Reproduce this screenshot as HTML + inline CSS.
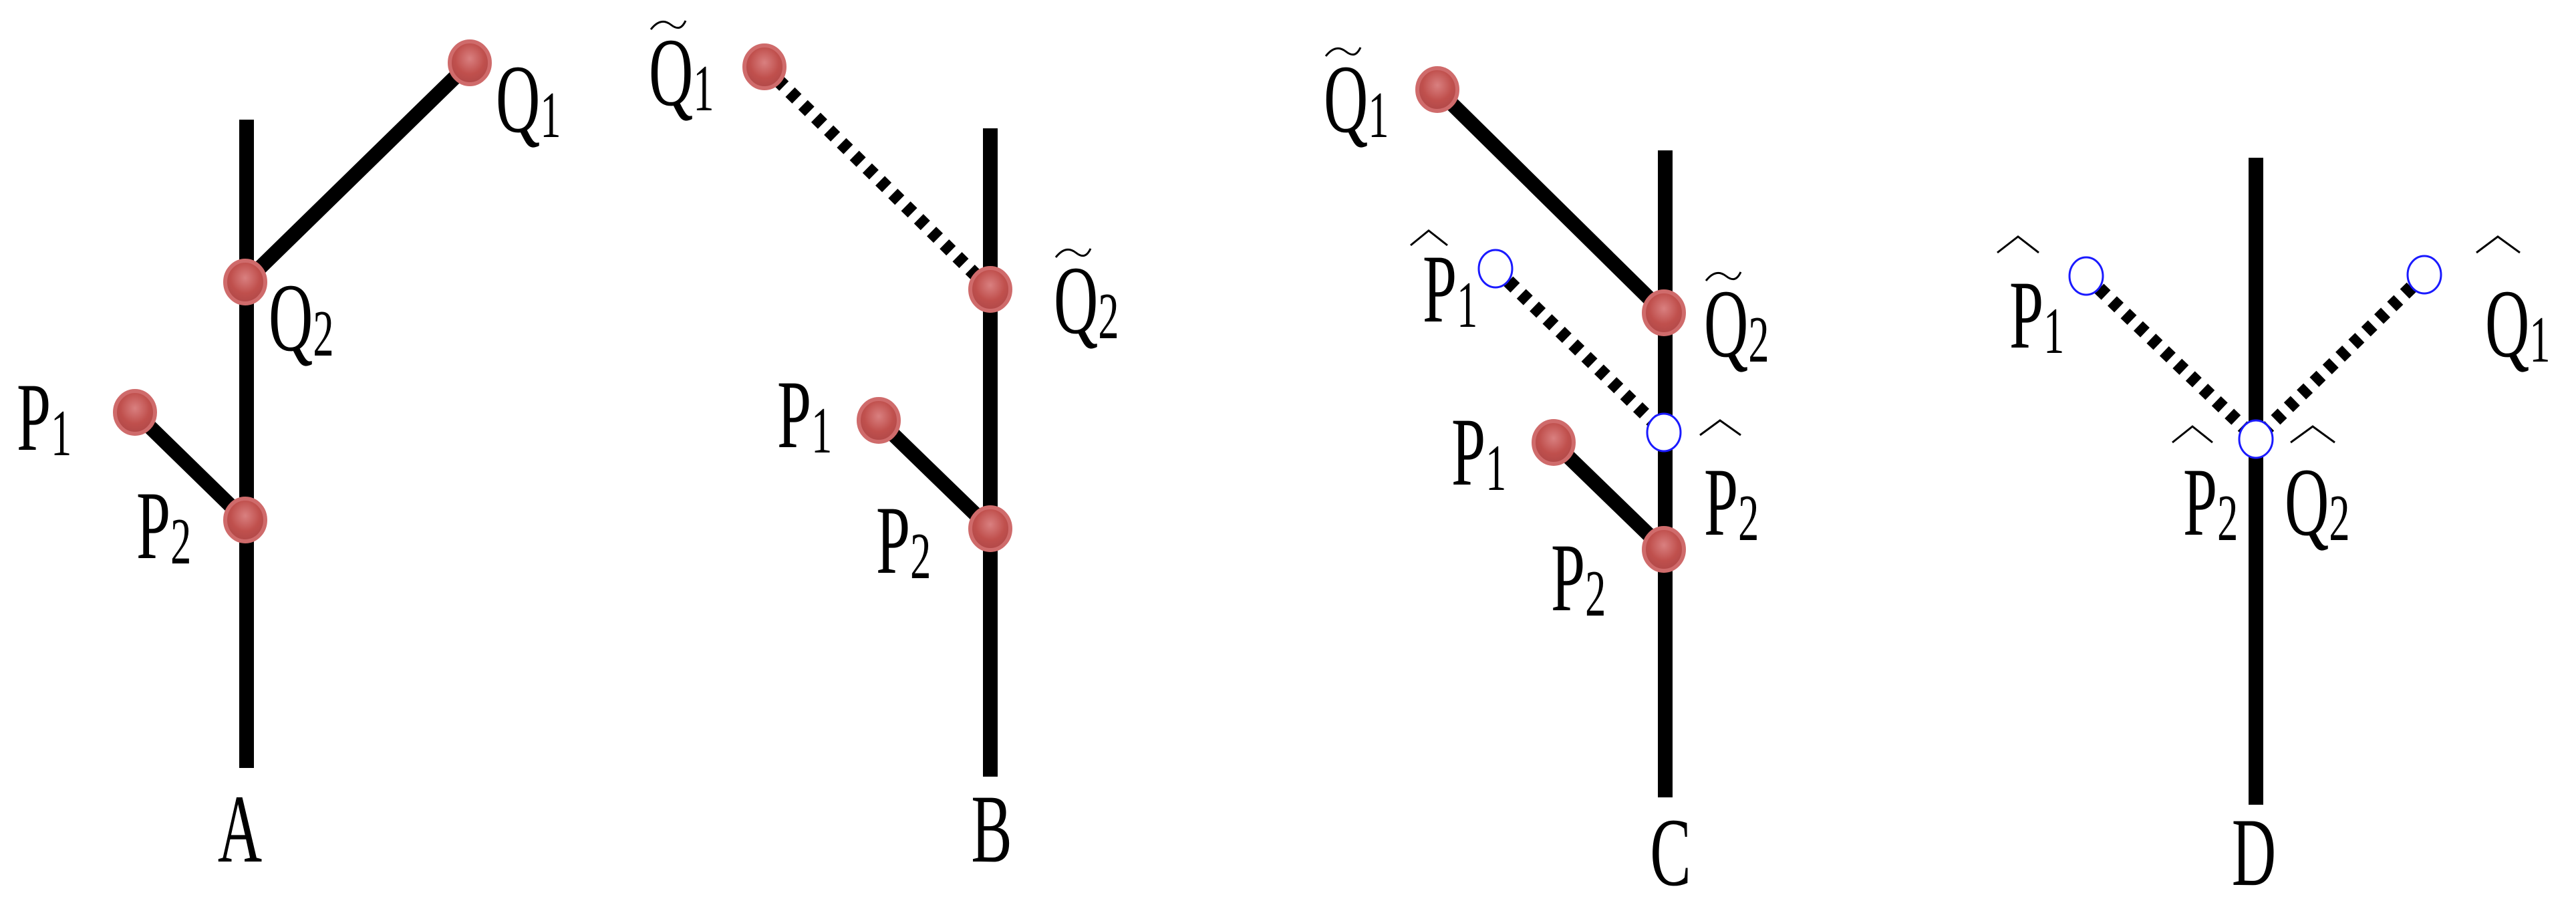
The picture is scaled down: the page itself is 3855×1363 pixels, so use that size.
<!DOCTYPE html>
<html><head><meta charset="utf-8"><style>html,body{margin:0;padding:0;background:#fff}svg{display:block}text{font-family:"Liberation Serif","Times New Roman",serif;fill:#000}</style></head>
<body>
<svg width="3855" height="1363" viewBox="0 0 3855 1363" xmlns="http://www.w3.org/2000/svg">
<defs>
<radialGradient id="rg" cx="50%" cy="40%" r="60%">
<stop offset="0" stop-color="#d98080"/><stop offset="0.6" stop-color="#c0504d"/><stop offset="1" stop-color="#b04848"/>
</radialGradient>
<g id="rc"><ellipse rx="30" ry="32" fill="url(#rg)" stroke="#cf6b6b" stroke-width="6"/></g>
<g id="bc"><ellipse rx="25" ry="28" fill="#fff" stroke="#1a1aff" stroke-width="3"/></g>
</defs>
<g stroke="#000" stroke-width="22" fill="none">
<line x1="369" y1="179" x2="369" y2="1149"/>
<line x1="367" y1="422" x2="703" y2="94"/>
<line x1="202" y1="617" x2="367" y2="778"/>
<line x1="1482" y1="192" x2="1482" y2="1162"/>
<line x1="1315" y1="629" x2="1482" y2="791"/>
<line x1="2492" y1="225" x2="2492" y2="1193"/>
<line x1="2151" y1="134" x2="2490" y2="468"/>
<line x1="2325" y1="662" x2="2490" y2="822"/>
<line x1="3376" y1="236" x2="3376" y2="1204"/>
</g>
<g stroke="#000" stroke-width="20" stroke-dasharray="14 13" fill="none">
<line x1="1144" y1="100" x2="1482" y2="433"/>
<line x1="2238" y1="402" x2="2490" y2="647"/>
<line x1="3122" y1="413" x2="3376" y2="657"/>
<line x1="3628" y1="411" x2="3376" y2="657"/>
</g>
<use href="#rc" x="703" y="94"/><use href="#rc" x="367" y="422"/><use href="#rc" x="202" y="617"/><use href="#rc" x="367" y="778"/>
<use href="#rc" x="1144" y="100"/><use href="#rc" x="1482" y="433"/><use href="#rc" x="1315" y="629"/><use href="#rc" x="1482" y="791"/>
<use href="#rc" x="2151" y="134"/><use href="#rc" x="2490" y="468"/><use href="#rc" x="2325" y="662"/><use href="#rc" x="2490" y="822"/>
<use href="#bc" x="2238" y="402"/><use href="#bc" x="2490" y="647"/>
<use href="#bc" x="3122" y="413"/><use href="#bc" x="3628" y="411"/><use href="#bc" x="3376" y="657"/>
<g font-size="112">
<g transform="translate(742,197) scale(0.82,1.3)"><text>Q<tspan font-size="76" dy="6">1</tspan></text></g>
<g transform="translate(402,524) scale(0.82,1.3)"><text>Q<tspan font-size="76" dy="6">2</tspan></text></g>
<g transform="translate(25,673) scale(0.82,1.3)"><text>P<tspan font-size="76" dy="6">1</tspan></text></g>
<g transform="translate(204,835) scale(0.82,1.3)"><text>P<tspan font-size="76" dy="6">2</tspan></text></g>
<g transform="translate(359,1289) scale(0.82,1.3)"><text text-anchor="middle">A</text></g>
<g transform="translate(971,157) scale(0.82,1.3)"><text>Q<tspan font-size="76" dy="6">1</tspan></text></g>
<g transform="translate(1577,498) scale(0.82,1.3)"><text>Q<tspan font-size="76" dy="6">2</tspan></text></g>
<g transform="translate(1163,669) scale(0.82,1.3)"><text>P<tspan font-size="76" dy="6">1</tspan></text></g>
<g transform="translate(1311,857) scale(0.82,1.3)"><text>P<tspan font-size="76" dy="6">2</tspan></text></g>
<g transform="translate(1484,1289) scale(0.82,1.3)"><text text-anchor="middle">B</text></g>
<g transform="translate(1981,197) scale(0.82,1.3)"><text>Q<tspan font-size="76" dy="6">1</tspan></text></g>
<g transform="translate(2550,533) scale(0.82,1.3)"><text>Q<tspan font-size="76" dy="6">2</tspan></text></g>
<g transform="translate(2129,481) scale(0.82,1.3)"><text>P<tspan font-size="76" dy="6">1</tspan></text></g>
<g transform="translate(2550,800) scale(0.82,1.3)"><text>P<tspan font-size="76" dy="6">2</tspan></text></g>
<g transform="translate(2172,725) scale(0.82,1.3)"><text>P<tspan font-size="76" dy="6">1</tspan></text></g>
<g transform="translate(2321,913) scale(0.82,1.3)"><text>P<tspan font-size="76" dy="6">2</tspan></text></g>
<g transform="translate(2500,1324) scale(0.82,1.3)"><text text-anchor="middle">C</text></g>
<g transform="translate(3007,520) scale(0.82,1.3)"><text>P<tspan font-size="76" dy="6">1</tspan></text></g>
<g transform="translate(3719,533) scale(0.82,1.3)"><text>Q<tspan font-size="76" dy="6">1</tspan></text></g>
<g transform="translate(3267,800) scale(0.82,1.3)"><text>P<tspan font-size="76" dy="6">2</tspan></text></g>
<g transform="translate(3419,800) scale(0.82,1.3)"><text>Q<tspan font-size="76" dy="6">2</tspan></text></g>
<g transform="translate(3373,1324) scale(0.82,1.3)"><text text-anchor="middle">D</text></g>
</g>
<g stroke="#000" stroke-width="3" fill="none">
<path d="M974 44 C985 30,995 30,1004 37 S1020 44,1026 31"/>
<path d="M1580 385 C1591 371,1601 371,1610 378 S1626 385,1632 372"/>
<path d="M1984 84 C1995 70,2005 70,2014 77 S2030 84,2036 71"/>
<path d="M2553 420 C2564 406,2574 406,2583 413 S2599 420,2605 407"/>
<polyline points="2111,367 2138,345 2166,367"/>
<polyline points="2544,651 2574,629 2605,651"/>
<polyline points="2989,378 3020,354 3051,378"/>
<polyline points="3706,378 3738,354 3771,378"/>
<polyline points="3251,662 3281,638 3311,662"/>
<polyline points="3428,662 3461,638 3494,662"/>
</g>
</svg>
</body></html>
